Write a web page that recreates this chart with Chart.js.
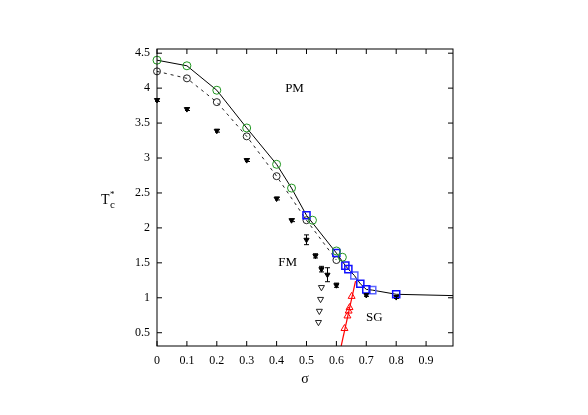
<!DOCTYPE html>
<html>
<head>
<meta charset="utf-8">
<script src="https://cdn.jsdelivr.net/npm/chart.js@4.4.1/dist/chart.umd.min.js"></script>
<style>
    body { margin: 0; background: #fff; }
    canvas { display: block; }
</style>
</head>
<body>
<canvas id="myChart" width="588" height="415"></canvas>
<script>
(function () {
    "use strict";

    var serif = "'Liberation Serif', 'Times New Roman', serif";

    // tick labels
    var xTicks = [0, 0.1, 0.2, 0.3, 0.4, 0.5, 0.6, 0.7, 0.8, 0.9];
    var yTicks = [0.5, 1, 1.5, 2, 2.5, 3, 3.5, 4, 4.5];

    // green circles
    var sigmaGreen = [0, 0.1, 0.2, 0.3, 0.4, 0.45, 0.52, 0.6, 0.62];
    var tcGreen = [4.40, 4.32, 3.97, 3.43, 2.91, 2.57, 2.11, 1.67, 1.58];

    // black open circles (dashed line)
    var sigmaCirc = [0, 0.1, 0.2, 0.3, 0.4, 0.5, 0.6];
    var tcCirc = [4.24, 4.14, 3.80, 3.31, 2.74, 2.11, 1.54];

    // blue squares
    var sigmaSq = [0.5, 0.6, 0.63, 0.64, 0.68, 0.7, 0.8];
    var tcSq = [2.18, 1.64, 1.46, 1.41, 1.20, 1.12, 1.05];
    var sigmaSq2 = [0.66, 0.72];
    var tcSq2 = [1.32, 1.11];

    // solid phase boundary
    var sigmaLine = [0, 0.1, 0.2, 0.3, 0.4, 0.45, 0.5, 0.6, 0.63, 0.64, 0.66, 0.68, 0.7, 0.72, 0.8, 1.0];
    var tcLine = [4.40, 4.32, 3.97, 3.43, 2.91, 2.57, 2.18, 1.64, 1.46, 1.41, 1.32, 1.20, 1.12, 1.11, 1.05, 1.03];

    // filled down triangles with error bars
    var sigmaFill = [0, 0.1, 0.2, 0.3, 0.4, 0.45, 0.5, 0.53, 0.55, 0.57, 0.6, 0.7, 0.8];
    var tcFill = [3.83, 3.70, 3.39, 2.97, 2.42, 2.11, 1.83, 1.60, 1.41, 1.33, 1.18, 1.04, 1.01];
    var errFill = [0.02, 0.02, 0.02, 0.02, 0.02, 0.02, 0.07, 0.03, 0.04, 0.10, 0.03, 0.02, 0.02];

    // open down triangles
    var sigmaOpen = [0.55, 0.547, 0.543, 0.54];
    var tcOpen = [1.15, 0.98, 0.81, 0.65];

    // red up triangles + red line
    var sigmaRed = [0.627, 0.637, 0.641, 0.644, 0.651];
    var tcRed = [0.56, 0.74, 0.81, 0.86, 1.02];
    var sigmaRedLine = [0.616, 0.664];
    var tcRedLine = [0.31, 1.24];

    function pts(xs, ys) {
        return xs.map(function (x, i) {
            return { x: x, y: ys[i] };
        });
    }

    var errorBars = {
        id: 'errorBars',
        afterDatasetsDraw: function (chart) {
            var c = chart.ctx;
            var xs = chart.scales.x, ys = chart.scales.y;
            c.save();
            c.strokeStyle = '#000';
            c.lineWidth = 1;
            sigmaFill.forEach(function (s, i) {
                var px = Math.round(xs.getPixelForValue(s)) + 0.5;
                var top = ys.getPixelForValue(tcFill[i] + errFill[i]);
                var bot = ys.getPixelForValue(tcFill[i] - errFill[i]);
                c.beginPath();
                c.moveTo(px, top); c.lineTo(px, bot);
                c.moveTo(px - 2.5, top); c.lineTo(px + 2.5, top);
                c.moveTo(px - 2.5, bot); c.lineTo(px + 2.5, bot);
                c.stroke();
            });
            c.restore();
        }
    };

    var frame = {
        id: 'frame',
        afterDraw: function (chart) {
            var c = chart.ctx;
            var a = chart.chartArea;
            var xs = chart.scales.x, ys = chart.scales.y;
            var tl = 5;
            c.save();
            c.strokeStyle = '#000';
            c.lineWidth = 1;
            c.strokeRect(a.left, a.top, a.right - a.left, a.bottom - a.top);
            c.beginPath();
            xTicks.forEach(function (v) {
                var px = xs.getPixelForValue(v);
                c.moveTo(px, a.bottom); c.lineTo(px, a.bottom - tl);
                c.moveTo(px, a.top); c.lineTo(px, a.top + tl);
            });
            yTicks.forEach(function (v) {
                var py = ys.getPixelForValue(v);
                c.moveTo(a.left, py); c.lineTo(a.left + tl, py);
                c.moveTo(a.right, py); c.lineTo(a.right - tl, py);
            });
            c.stroke();

            // region labels
            c.fillStyle = '#000';
            c.textAlign = 'center';
            c.textBaseline = 'middle';
            c.font = '13px ' + serif;
            c.fillText('PM', xs.getPixelForValue(0.46), ys.getPixelForValue(4.0));
            c.fillText('FM', xs.getPixelForValue(0.437), ys.getPixelForValue(1.51));
            c.fillText('SG', xs.getPixelForValue(0.727), ys.getPixelForValue(0.71));

            // axis titles
            c.font = '14px ' + serif;
            c.fillText('\u03c3', (a.left + a.right) / 2, 379);
            var ty = (a.top + a.bottom) / 2 + 3;
            c.textAlign = 'left';
            c.fillText('T', 101, ty);
            c.font = '9px ' + serif;
            c.fillText('*', 110, ty - 6);
            c.font = '11px ' + serif;
            c.fillText('c', 110, ty + 5);
            c.restore();
        }
    };

    var ctx = document.getElementById('myChart').getContext('2d');

    var myChart = new Chart(ctx, {
        type: 'scatter',
        data: {
            datasets: [{
                data: pts(sigmaGreen, tcGreen),
                pointStyle: 'circle',
                pointRadius: 4,
                borderColor: '#1f961f',
                backgroundColor: 'transparent',
                borderWidth: 1,
                clip: false
            }, {
                data: pts(sigmaSq, tcSq),
                pointStyle: 'rect',
                pointRadius: 5,
                borderColor: '#1010ff',
                backgroundColor: 'transparent',
                borderWidth: 1.5,
                clip: false
            }, {
                data: pts(sigmaSq2, tcSq2),
                pointStyle: 'rect',
                pointRadius: 5,
                borderColor: '#5a64ff',
                backgroundColor: 'transparent',
                borderWidth: 1.5,
                clip: false
            }, {
                data: pts(sigmaCirc, tcCirc),
                pointStyle: 'circle',
                pointRadius: 3.5,
                borderColor: '#222',
                backgroundColor: 'transparent',
                borderWidth: 1,
                showLine: true,
                borderDash: [3, 4],
                clip: false
            }, {
                data: pts(sigmaFill, tcFill),
                pointStyle: 'triangle',
                rotation: 180,
                pointRadius: 3,
                borderColor: '#000',
                backgroundColor: '#000',
                borderWidth: 1,
                clip: false
            }, {
                data: pts(sigmaOpen, tcOpen),
                pointStyle: 'triangle',
                rotation: 180,
                pointRadius: 3.5,
                borderColor: '#222',
                backgroundColor: 'transparent',
                borderWidth: 1,
                clip: false
            }, {
                data: pts(sigmaRed, tcRed),
                pointStyle: 'triangle',
                pointRadius: 4,
                borderColor: '#ff0000',
                backgroundColor: 'transparent',
                borderWidth: 1,
                clip: false
            }, {
                data: pts(sigmaRedLine, tcRedLine),
                showLine: true,
                pointRadius: 0,
                borderColor: '#ff0000',
                borderWidth: 1.2
            }, {
                data: pts(sigmaLine, tcLine),
                showLine: true,
                pointRadius: 0,
                borderColor: '#000',
                borderWidth: 1
            }]
        },
        options: {
            responsive: false,
            animation: false,
            layout: {
                padding: { left: 0, right: 135, top: 49, bottom: 0 }
            },
            plugins: {
                legend: { display: false },
                tooltip: { enabled: false }
            },
            scales: {
                x: {
                    type: 'linear',
                    min: 0,
                    max: 0.99,
                    grid: { display: false, drawTicks: false },
                    border: { display: false },
                    afterBuildTicks: function (s) {
                        s.ticks = xTicks.map(function (v) { return { value: v }; });
                    },
                    afterFit: function (s) { s.height = 69; },
                    ticks: {
                        autoSkip: false,
                        maxRotation: 0,
                        padding: 8,
                        color: '#000',
                        font: { family: serif, size: 12 },
                        callback: function (v) { return String(v); }
                    }
                },
                y: {
                    type: 'linear',
                    min: 0.31,
                    max: 4.56,
                    grid: { display: false, drawTicks: false },
                    border: { display: false },
                    afterBuildTicks: function (s) {
                        s.ticks = yTicks.map(function (v) { return { value: v }; });
                    },
                    afterFit: function (s) { s.width = 157; },
                    ticks: {
                        autoSkip: false,
                        padding: 7,
                        color: '#000',
                        font: { family: serif, size: 12 },
                        callback: function (v) { return String(v); }
                    }
                }
            }
        },
        plugins: [errorBars, frame]
    });
})();
</script>
</body>
</html>
